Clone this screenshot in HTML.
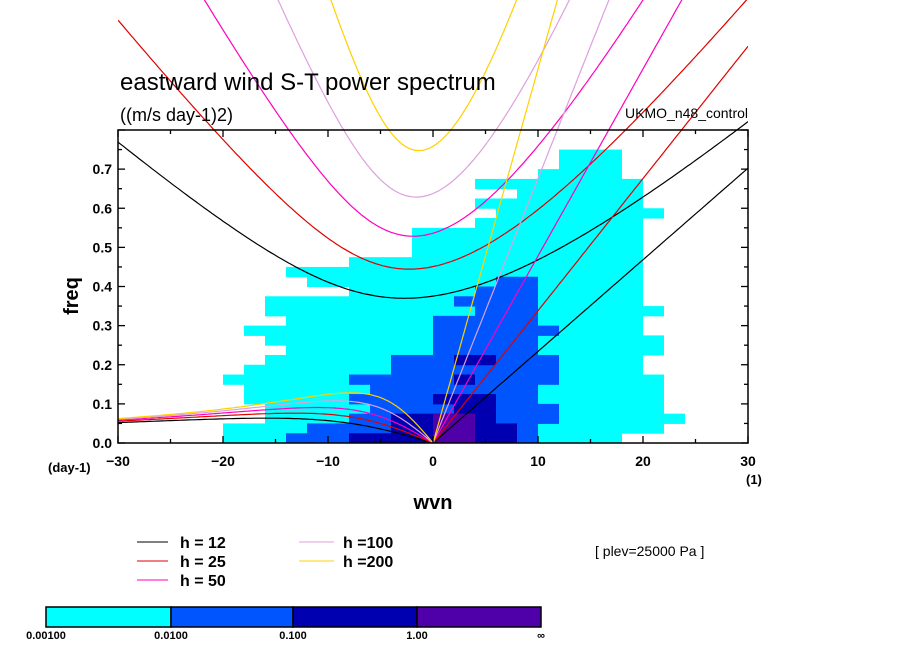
<!DOCTYPE html>
<html><head><meta charset="utf-8"><style>
html,body{margin:0;padding:0;background:#fff;}
svg{display:block;font-family:"Liberation Sans",sans-serif;}
</style></head><body>
<svg id="chart" width="904" height="654" viewBox="0 0 904 654" xmlns="http://www.w3.org/2000/svg">
<defs><clipPath id="pc"><rect x="118" y="0" width="630" height="443"/></clipPath></defs>
<g id="field"></g>
<g id="curves" clip-path="url(#pc)"></g>
<rect x="118" y="130" width="630" height="313" fill="none" stroke="#000" stroke-width="1.5"/>
<g id="ticks"></g>
<text x="120" y="90" font-size="24">eastward wind S-T power spectrum</text>
<text x="120" y="121" font-size="18">((m/s day-1)2)</text>
<text x="748" y="118" font-size="14" text-anchor="end">UKMO_n48_control</text>
<text x="78" y="296" font-size="20" font-weight="bold" text-anchor="middle" transform="rotate(-90 78 296)">freq</text>
<text x="433" y="509" font-size="20" font-weight="bold" text-anchor="middle">wvn</text>
<text x="48" y="472" font-size="13" font-weight="bold">(day-1)</text>
<text x="746" y="484" font-size="13" font-weight="bold">(1)</text>
<g font-size="16" font-weight="bold">
<line x1="137" y1="542" x2="168" y2="542" stroke="#000"/><text x="180" y="548">h = 12</text>
<line x1="137" y1="561" x2="168" y2="561" stroke="#e00000"/><text x="180" y="567">h = 25</text>
<line x1="137" y1="580" x2="168" y2="580" stroke="#ff00c0"/><text x="180" y="586">h = 50</text>
<line x1="299" y1="542" x2="334" y2="542" stroke="#dda0dd"/><text x="343" y="548">h =100</text>
<line x1="299" y1="561" x2="334" y2="561" stroke="#ffd000"/><text x="343" y="567">h =200</text>
</g>
<text x="595" y="556" font-size="14">[ plev=25000 Pa ]</text>
<g>
<rect x="46" y="607" width="125" height="20" fill="#00ffff" stroke="#000" stroke-width="1.5"/>
<rect x="171" y="607" width="122" height="20" fill="#0055ff" stroke="#000" stroke-width="1.5"/>
<rect x="293" y="607" width="124" height="20" fill="#0000b0" stroke="#000" stroke-width="1.5"/>
<rect x="417" y="607" width="124" height="20" fill="#5000a8" stroke="#000" stroke-width="1.5"/>
<g font-size="11" font-weight="bold" text-anchor="middle">
<text x="46" y="639">0.00100</text>
<text x="171" y="639">0.0100</text>
<text x="293" y="639">0.100</text>
<text x="417" y="639">1.00</text>
<text x="541" y="639">∞</text>
</g></g>
</svg>
<script>
// axis
const X0=118,X1=748,Y0=443,Y1=130;
const xMin=-30,xMax=30,yMin=0,yMax=0.8;
function sx(w){return X0+(w-xMin)/(xMax-xMin)*(X1-X0);}
function sy(f){return Y0-(f-yMin)/(yMax-yMin)*(Y0-Y1);}
const xTickLabels=[-30,-20,-10,0,10,20,30];
const yTickLabels=["0.0","0.1","0.2","0.3","0.4","0.5","0.6","0.7"];
const depths=[12,25,50,100,200];
const depthColors=["#000000","#e00000","#ff00c0","#dda0dd","#ffd000"];
// contour grid: rows top (0.775-0.8) to bottom (0-0.025), columns 2 wn wide
// each row: [cyanStart,cyanEnd,blueStart,blueEnd,navyStart,navyEnd,purpleStart,purpleEnd]
const cyanRows=[[-1,-1],[-1,-1],[21,23],[21,23],[20,23],[17,24],[19,24],[17,24],[18,25],[17,24],[14,24],[14,24],[14,24],[11,24],[8,24],[9,24],[11,24],[7,24],[7,25],[8,24],[6,24],[7,25],[8,25],[7,24],[6,24],[5,25],[6,25],[6,25],[7,25],[7,26],[5,25],[5,23]];
const blueRows=[[-1,-1],[-1,-1],[-1,-1],[-1,-1],[-1,-1],[-1,-1],[-1,-1],[-1,-1],[-1,-1],[-1,-1],[-1,-1],[-1,-1],[-1,-1],[-1,-1],[-1,-1],[18,19],[17,19],[16,19],[17,19],[15,19],[15,20],[15,19],[15,19],[13,20],[13,20],[11,20],[12,19],[11,19],[12,20],[11,20],[9,19],[8,19]];
const navyRows=[[-1,-1],[-1,-1],[-1,-1],[-1,-1],[-1,-1],[-1,-1],[-1,-1],[-1,-1],[-1,-1],[-1,-1],[-1,-1],[-1,-1],[-1,-1],[-1,-1],[-1,-1],[-1,-1],[-1,-1],[-1,-1],[-1,-1],[-1,-1],[-1,-1],[-1,-1],[-1,-1],[16,17],[-1,-1],[16,16],[-1,-1],[15,17],[16,17],[13,17],[13,18],[11,18]];
const purpleRows=[[-1,-1],[-1,-1],[-1,-1],[-1,-1],[-1,-1],[-1,-1],[-1,-1],[-1,-1],[-1,-1],[-1,-1],[-1,-1],[-1,-1],[-1,-1],[-1,-1],[-1,-1],[-1,-1],[-1,-1],[-1,-1],[-1,-1],[-1,-1],[-1,-1],[-1,-1],[-1,-1],[-1,-1],[-1,-1],[-1,-1],[-1,-1],[-1,-1],[-1,-1],[15,16],[15,16],[15,16]];
const levelColors=["#00ffff","#0055ff","#0000b0","#5000a8"];
const NS="http://www.w3.org/2000/svg";
function mk(tag,attrs,parent){const e=document.createElementNS(NS,tag);for(const k in attrs)e.setAttribute(k,attrs[k]);parent.appendChild(e);return e;}
const field=document.getElementById('field');
const rowBand=0.025,colW=2;
[cyanRows,blueRows,navyRows,purpleRows].forEach((rows,li)=>{
  rows.forEach((r,i)=>{
    if(r[0]<0)return;
    const fTop=yMax-i*rowBand,fBot=fTop-rowBand;
    const w0=xMin+r[0]*colW,w1=xMin+(r[1]+1)*colW;
    const rc=mk('rect',{x:sx(w0),y:sy(fTop),width:sx(w1)-sx(w0),height:sy(fBot)-sy(fTop)+0.5,fill:levelColors[li]},field);
    
    
  });
});
// dispersion curves (Matsuno n=1 and Kelvin)
const a=6.371e6,beta=2*7.292e-5/a,g=9.81;
function roots(k,c){
  const p=-(c*c*k*k+3*beta*c),q=-beta*c*c*k;
  const m=2*Math.sqrt(-p/3);
  let arg=3*q/(2*p)*Math.sqrt(-3/p);arg=Math.max(-1,Math.min(1,arg));
  const th=Math.acos(arg)/3;
  return [0,1,2].map(j=>m*Math.cos(th-2*Math.PI*j/3));
}
const toCpd=86400/(2*Math.PI);
const curves=document.getElementById('curves');
depths.forEach((h,di)=>{
  const c=Math.sqrt(g*h);
  let ig=[],ro=[],kv=[];
  for(let w=xMin;w<=xMax+1e-9;w+=0.25){
    const k=w/a,r=roots(k,c).sort((u,v)=>u-v);
    ig.push([sx(w),sy(r[2]*toCpd)]);
    if(w<=0){const rr=r.reduce((m,v)=>Math.abs(v)<Math.abs(m)?v:m);ro.push([sx(w),sy(Math.max(0,rr*toCpd))]);}
    if(w>=0)kv.push([sx(w),sy(c*k*toCpd)]);
  }
  [['ig',ig],['rossby',ro],['kelvin',kv]].forEach(([nm,pts])=>{
    const pl=mk('polyline',{points:pts.map(p=>p[0].toFixed(1)+','+p[1].toFixed(1)).join(' '),fill:'none',stroke:depthColors[di],'stroke-width':1.2},curves);
    
    
  });
});
// ticks
const tk=document.getElementById('ticks');
for(let w=xMin;w<=xMax;w+=5){
  const major=w%10===0,len=major?7:4;
  [[Y0,Y0-len],[Y1,Y1+len]].forEach(([a1,a2])=>{const l=mk('line',{x1:sx(w),x2:sx(w),y1:a1,y2:a2,stroke:'#000','stroke-width':1.3},tk);});
}
for(let i=0;i<=16;i++){
  const f=i*0.05,major=i%2===0,len=major?7:4;
  [[X0,X0+len],[X1,X1-len]].forEach(([a1,a2])=>{const l=mk('line',{x1:a1,x2:a2,y1:sy(f),y2:sy(f),stroke:'#000','stroke-width':1.3},tk);});
}
xTickLabels.forEach(v=>{
  const t=mk('text',{x:sx(v),y:Y0+23,'font-size':14,'font-weight':'bold','text-anchor':'middle'},tk);t.textContent=v<0?'\u2212'+(-v):String(v);
  
  
});
yTickLabels.forEach((s,i)=>{
  const t=mk('text',{x:X0-6,y:sy(parseFloat(s))+5,'font-size':14,'font-weight':'bold','text-anchor':'end'},tk);t.textContent=s;
  
  
});
</script>
</body></html>
